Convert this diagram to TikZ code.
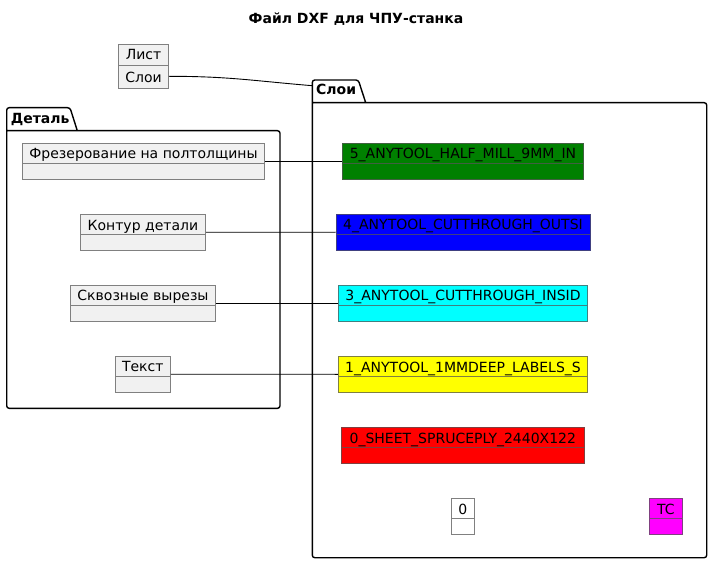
\documentclass[tikz,border=0pt]{standalone}
\usepackage{fontspec}
\setmainfont{DejaVu Sans}
\usepackage{xcolor}
\usepackage{tikz}
\usetikzlibrary{positioning,calc}
\definecolor{objfill}{HTML}{F1F1F1}
\definecolor{objline}{HTML}{808080}
\definecolor{green1}{HTML}{008000}
\definecolor{blue1}{HTML}{0000FF}
\definecolor{cyan1}{HTML}{00FFFF}
\definecolor{yellow1}{HTML}{FFFF00}
\definecolor{red1}{HTML}{FF0000}
\definecolor{magenta1}{HTML}{FF00FF}

\begin{document}
\begin{tikzpicture}[
    x=1pt, y=-1pt,
    obj/.style={draw=#1, line width=0.9pt, minimum height=36pt,
                inner xsep=0pt, inner ysep=3pt,
                text height=12.7pt, text depth=17.3pt,
                font=\fontsize{14}{16.8}\selectfont,
                path picture={\draw[#1, line width=0.9pt]
                  ([yshift=-20pt]path picture bounding box.north west) --
                  ([yshift=-20pt]path picture bounding box.north east);}},
    obj/.default=objline,
    partobj/.style={obj, fill=objfill},
    layerobj/.style={obj=#1!50!black!50!gray, fill=#1},
    sheetobj/.style={draw=objline, fill=objfill, line width=0.9pt,
                minimum width=49.6pt, minimum height=44pt, inner sep=0pt,
                align=center, font=\fontsize{14}{22.7}\selectfont,
                path picture={\draw[objline, line width=0.9pt]
                  ([yshift=-21.4pt]path picture bounding box.north west) --
                  ([yshift=-21.4pt]path picture bounding box.north east);}},
    pkg/.style={line width=1.4pt, rounded corners=2.5pt},
    pkglabel/.style={anchor=base west, inner sep=0pt,
                font=\bfseries\fontsize{14}{16.8}\selectfont},
    wire/.style={line width=0.9pt},
]
\path[fill=white] (0,0) rectangle (712,564);
\useasboundingbox (0,0) rectangle (712,564);

\node[anchor=base, inner sep=0pt, font=\bfseries\fontsize{14}{16.8}\selectfont]
    (title) at (356,23.3) {Файл DXF для ЧПУ-станка};

\node[sheetobj] (sheet) at (143.5,66.3) {Лист\\Слои};

% packages
\draw[pkg] (77.3,130.7) -- (70,107.7) -- (6.7,107.7) -- (6.7,408.3)
    -- (280,408.3) -- (280,130.7) -- (6.7,130.7);
\node[pkglabel] (detlabel) at (10.7,123.3) {Деталь};

\draw[pkg] (365.7,102.7) -- (358.3,80) -- (312.3,80) -- (312.3,557.7)
    -- (706.7,557.7) -- (706.7,102.7) -- (312.3,102.7);
\node[pkglabel] (sloilabel) at (316,94.7) {Слои};
\coordinate (sloiport) at (312.3,85.7);

% detail parts
\node[partobj, minimum width=241.6pt] (frez) at (143.5,161.3) {Фрезерование на полтолщины};
\node[partobj, minimum width=125.7pt] (kontur) at (142.9,232.3) {Контур детали};
\node[partobj, minimum width=145.4pt] (skvoz) at (143,303.2) {Сквозные вырезы};
\node[partobj, minimum width=55pt] (tekst) at (142.8,374.2) {Текст};

% layers
\node[layerobj=green1, minimum width=241.4pt] (l5) at (463,161.3) {5\_ANYTOOL\_HALF\_MILL\_9MM\_IN};
\node[layerobj=blue1, minimum width=254pt] (l4) at (463,232.2) {4\_ANYTOOL\_CUTTHROUGH\_OUTSI};
\node[layerobj=cyan1, minimum width=249.4pt] (l3) at (463,303.2) {3\_ANYTOOL\_CUTTHROUGH\_INSID};
\node[layerobj=yellow1, minimum width=249.4pt] (l1) at (463,374.3) {1\_ANYTOOL\_1MMDEEP\_LABELS\_S};
\node[layerobj=red1, minimum width=243pt] (l0) at (462.8,445.3) {0\_SHEET\_SPRUCEPLY\_2440X122};
\node[obj, fill=white, minimum width=23pt] (zero) at (462.8,516.3) {0};
\node[layerobj=magenta1, minimum width=33pt] (tc) at (665.8,516.3) {TC};

\draw[wire] ([yshift=-10pt]sheet.east) .. controls +(60,0) and +(-60,-5) .. (sloiport);
\draw[wire] (frez.east) -- (l5.west);
\draw[wire] (kontur.east) -- (l4.west);
\draw[wire] (skvoz.east) -- (l3.west);
\draw[wire] (tekst.east) -- (l1.west);
\end{tikzpicture}
\end{document}
